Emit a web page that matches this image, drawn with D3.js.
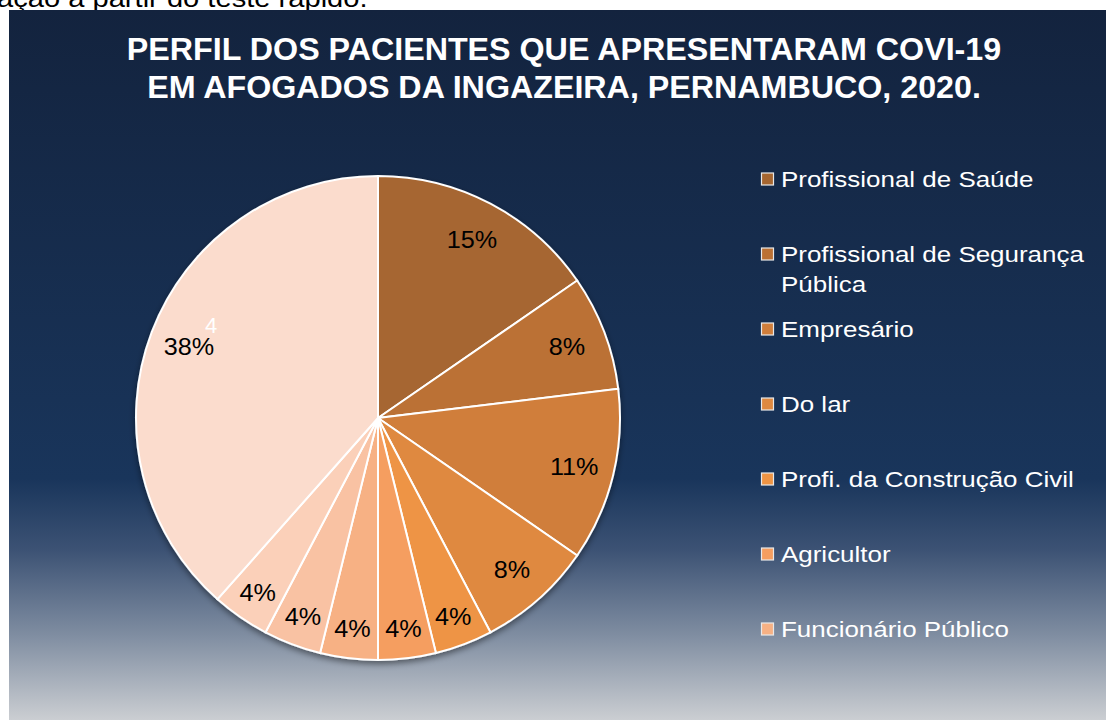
<!DOCTYPE html>
<html>
<head>
<meta charset="utf-8">
<script src="https://cdn.jsdelivr.net/npm/d3@7"></script>
<style>
  body { margin: 0; background: #ffffff; }
  svg { display: block; font-family: "Liberation Sans", Arial, sans-serif; }
</style>
</head>
<body>
<script>
// data
var categories = ["Profissional de Saúde", "Profissional de Segurança Pública", "Empresário", "Do lar",
    "Profi. da Construção Civil", "Agricultor", "Funcionário Público", "Categoria 8", "Categoria 9", "Categoria 10"];
var counts = [4, 2, 3, 2, 1, 1, 1, 1, 1, 10];
var pctLabels = ["15%", "8%", "11%", "8%", "4%", "4%", "4%", "4%", "4%", "38%"];
var sliceColors = ["#a66630", "#bb7134", "#d07e3b", "#df8940", "#ee9444", "#f59e60", "#f7b184", "#f9c2a3", "#fbd0b9", "#fbdccd"];
var legendShown = 7;

var width = 1106, height = 720;
var cx = 378, cy = 418, radius = 242;

var svg = d3.select("body").append("svg")
    .attr("width", width)
    .attr("height", height);

var defs = svg.append("defs");
var grad = defs.append("linearGradient")
    .attr("id", "bg").attr("x1", 0).attr("y1", 0).attr("x2", 0).attr("y2", 1);
grad.append("stop").attr("offset", "0%").attr("stop-color", "#13233e");
grad.append("stop").attr("offset", "66%").attr("stop-color", "#19355b");
grad.append("stop").attr("offset", "76%").attr("stop-color", "#3c5274");
grad.append("stop").attr("offset", "88%").attr("stop-color", "#7f8da1");
grad.append("stop").attr("offset", "100%").attr("stop-color", "#cbced2");

var shadow = defs.append("filter").attr("id", "shadow")
    .attr("x", "-10%").attr("y", "-10%").attr("width", "120%").attr("height", "120%");
shadow.append("feDropShadow").attr("dx", 0).attr("dy", 3).attr("stdDeviation", 3)
    .attr("flood-color", "#000").attr("flood-opacity", 0.45);

// stray caption text above the chart (cut by the panel)
svg.append("text")
    .attr("transform", "translate(-3,7) scale(1.12,1)")
    .attr("font-size", 26).attr("fill", "#000")
    .text("ação a partir do teste rápido.");

// chart panel
svg.append("rect")
    .attr("x", 9).attr("y", 10)
    .attr("width", width - 9).attr("height", height - 10)
    .attr("fill", "url(#bg)");

// title
var title = svg.append("text")
    .attr("transform", "translate(564,0) scale(1.04,1)")
    .attr("text-anchor", "middle")
    .attr("font-size", 31).attr("font-weight", "bold").attr("fill", "#fff");
title.append("tspan").attr("x", 0).attr("y", 60).text("PERFIL DOS PACIENTES QUE APRESENTARAM COVI-19");
title.append("tspan").attr("x", 0).attr("y", 98).text("EM AFOGADOS DA INGAZEIRA, PERNAMBUCO, 2020.");

// pie
var pie = d3.pie().sort(null).value(function(d){ return d; });
var arcs = pie(counts);
var total = d3.sum(counts);
var arc = d3.arc().innerRadius(0).outerRadius(radius);

var g = svg.append("g").attr("transform", "translate(" + cx + "," + cy + ")");

g.append("g").attr("filter", "url(#shadow)")
    .selectAll("path")
    .data(arcs)
    .enter()
    .append("path")
    .attr("d", arc)
    .attr("fill", function(d, i){ return sliceColors[i]; })
    .attr("stroke", "#fff")
    .style("stroke-width", "2px");

g.selectAll(".lbl")
    .data(arcs)
    .enter()
    .append("text")
    .attr("class", "lbl")
    .attr("transform", function(d){
        var r = (d.value / total < 0.05) ? radius * 0.875 : radius * 0.835;
        var a = (d.startAngle + d.endAngle) / 2;
        return "translate(" + (Math.sin(a) * r) + "," + (-Math.cos(a) * r) + ") scale(1.05,1)";
    })
    .attr("text-anchor", "middle")
    .attr("dy", "0.36em")
    .attr("font-size", 24)
    .attr("fill", "#000")
    .text(function(d, i){ return pctLabels[i]; });

// leftover "4" label in the big slice
svg.append("text")
    .attr("x", 211).attr("y", 333)
    .attr("text-anchor", "middle")
    .attr("font-size", 22).attr("fill", "#fff")
    .text("4");

// legend
var legY = [179, 254, 329, 404, 479, 554, 629];
var leg = svg.append("g");
for (var i = 0; i < legendShown; i++) {
    var item = leg.append("g").attr("transform", "translate(761," + legY[i] + ")");
    item.append("rect")
        .attr("x", 0.5).attr("y", -6)
        .attr("width", 12).attr("height", 12)
        .attr("fill", sliceColors[i])
        .attr("stroke", "#e8e8e8").attr("stroke-width", 1.2);
    var t = item.append("text")
        .attr("transform", "translate(20,0) scale(1.18,1)")
        .attr("font-size", 22).attr("fill", "#fff");
    if (categories[i] == "Profissional de Segurança Pública") {
        t.append("tspan").attr("x", 0).attr("y", 8).text("Profissional de Segurança");
        t.append("tspan").attr("x", 0).attr("y", 38).text("Pública");
    } else {
        t.attr("y", 8).text(categories[i]);
    }
}
</script>
</body>
</html>
